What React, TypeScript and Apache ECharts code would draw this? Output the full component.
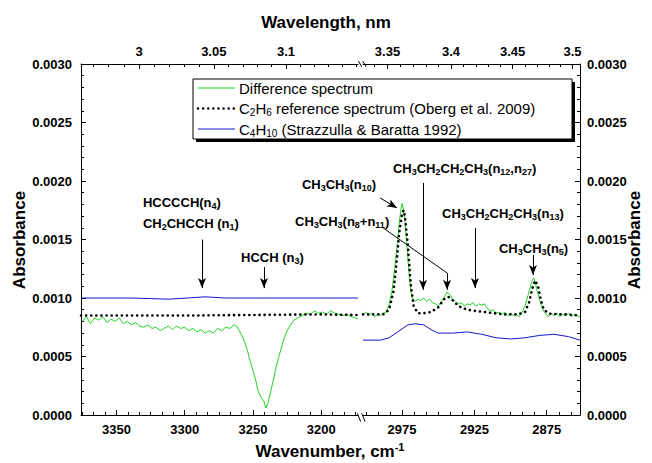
import React, { useEffect, useRef } from 'react';
import * as echarts from 'echarts';

const FONT = '"Liberation Sans", Arial, Helvetica, sans-serif';

// axis ranges (wavenumber, cm-1)
const leftRange = [3173, 3376];
const rightRange = [2852, 3002];
const leftXTicks = [3350, 3300, 3250, 3200];
const rightXTicks = [2975, 2925, 2875];
const leftWlTicks = [3, 3.05, 3.1];
const rightWlTicks = [3.35, 3.4, 3.45, 3.5];
const leftWlMinor = [2.97, 2.98, 2.99, 3.01, 3.02, 3.03, 3.04, 3.06, 3.07, 3.08, 3.09, 3.11, 3.12, 3.13, 3.14, 3.15];
const rightWlMinor = [3.34, 3.36, 3.37, 3.38, 3.39, 3.41, 3.42, 3.43, 3.44, 3.46, 3.47, 3.48, 3.49];

// Difference spectrum (green)
const diffLeft = [
  [3375, 0.00080], [3372, 0.00084], [3369, 0.00078], [3366, 0.00083], [3363, 0.00081], [3360, 0.00084],
  [3357, 0.00079], [3354, 0.00082], [3351, 0.00080], [3348, 0.00083], [3345, 0.00078], [3342, 0.00080],
  [3339, 0.00077], [3336, 0.00079], [3333, 0.00076], [3330, 0.00075], [3327, 0.00077], [3324, 0.00074],
  [3321, 0.00075], [3318, 0.00072], [3315, 0.00074], [3312, 0.00076], [3309, 0.00073], [3306, 0.00076],
  [3303, 0.00074], [3300, 0.00075], [3297, 0.00072], [3294, 0.00074], [3291, 0.00071], [3288, 0.00073],
  [3285, 0.00070], [3282, 0.00072], [3279, 0.00070], [3276, 0.00074], [3273, 0.00072], [3270, 0.00075],
  [3267, 0.00074], [3264, 0.00077], [3262, 0.00076], [3260, 0.00072], [3258, 0.00068], [3256, 0.00062],
  [3254, 0.00055], [3252, 0.00046], [3250, 0.00038], [3248, 0.00030], [3246, 0.00020], [3244, 0.00015],
  [3242, 0.00012], [3240.5, 0.00006], [3239, 0.00010], [3237, 0.00020], [3235, 0.00030], [3233, 0.00041],
  [3231, 0.00050], [3229, 0.00058], [3227, 0.00066], [3225, 0.00072], [3223, 0.00076], [3220, 0.00081],
  [3217, 0.00083], [3214, 0.00085], [3211, 0.00087], [3208, 0.00086], [3205, 0.00089], [3202, 0.00087],
  [3199, 0.00088], [3196, 0.00086], [3193, 0.00089], [3190, 0.00087], [3187, 0.00086], [3184, 0.00085],
  [3181, 0.00086], [3178, 0.00084], [3175, 0.00083], [3173, 0.00082],
];
const diffRight = [
  [3002, 0.00086], [3000, 0.00088], [2998, 0.00085], [2996, 0.00087], [2994, 0.00084], [2992, 0.00086],
  [2990, 0.00085], [2988, 0.00087], [2986, 0.00088], [2984, 0.00094], [2982, 0.00106], [2980, 0.00126],
  [2978, 0.00150], [2977, 0.00163], [2976, 0.00174], [2975, 0.00181], [2974, 0.00176], [2973, 0.00166],
  [2972, 0.00150], [2971, 0.00134], [2970, 0.00118], [2969, 0.00106], [2968, 0.00100], [2966, 0.00097],
  [2964, 0.00099], [2962, 0.00098], [2960, 0.00100], [2958, 0.00097], [2956, 0.00099], [2954, 0.00096],
  [2952, 0.00095], [2950, 0.00093], [2948, 0.00097], [2946, 0.00100], [2944, 0.00105], [2942, 0.00103],
  [2940, 0.00099], [2938, 0.00097], [2936, 0.00095], [2934, 0.00096], [2932, 0.00093], [2930, 0.00095],
  [2928, 0.00094], [2926, 0.00096], [2924, 0.00093], [2922, 0.00095], [2920, 0.00094], [2918, 0.00095],
  [2916, 0.00091], [2914, 0.00089], [2912, 0.00090], [2910, 0.00087], [2908, 0.00088], [2906, 0.00086],
  [2904, 0.00088], [2902, 0.00085], [2900, 0.00087], [2898, 0.00085], [2896, 0.00086], [2894, 0.00084],
  [2892, 0.00088], [2890, 0.00093], [2888, 0.00102], [2886, 0.00111], [2885, 0.00115], [2884, 0.00117],
  [2883, 0.00114], [2882, 0.00108], [2880, 0.00099], [2878, 0.00091], [2876, 0.00087], [2874, 0.00084],
  [2872, 0.00087], [2870, 0.00085], [2868, 0.00087], [2866, 0.00084], [2864, 0.00086], [2862, 0.00085],
  [2860, 0.00087], [2858, 0.00084], [2856, 0.00086], [2854, 0.00085], [2852, 0.00084],
];

// C2H6 reference spectrum (black dotted)
const c2h6Left = [[3376, 0.00085], [3300, 0.00085], [3250, 0.000855], [3200, 0.00086], [3173, 0.000855]];
const c2h6Right = [
  [3002, 0.00086], [2988, 0.00086], [2984, 0.00090], [2981, 0.00105], [2979, 0.00128], [2977, 0.00155],
  [2975, 0.00172], [2974, 0.00175], [2973, 0.00170], [2971, 0.00145], [2969, 0.00112], [2967, 0.00093],
  [2964, 0.00087], [2960, 0.00087], [2955, 0.00088], [2950, 0.00092], [2946, 0.00099], [2943, 0.00101],
  [2940, 0.00098], [2936, 0.00093], [2930, 0.00090], [2925, 0.00089], [2915, 0.000875], [2905, 0.00086],
  [2895, 0.00086], [2890, 0.00088], [2887, 0.00097], [2885, 0.00108], [2883, 0.00115], [2881, 0.00110],
  [2879, 0.00098], [2877, 0.00090], [2873, 0.000865], [2862, 0.00086], [2852, 0.00085],
];

// C4H10 (blue)
const c4h10Left = [
  [3376, 0.001], [3340, 0.001], [3325, 0.000995], [3312, 0.00099], [3298, 0.001], [3285, 0.00101],
  [3270, 0.001], [3240, 0.001], [3200, 0.001], [3173, 0.001],
];
const c4h10Right = [
  [3002, 0.00064], [2990, 0.00064], [2984, 0.00066], [2978, 0.00071], [2971, 0.00077], [2966, 0.00078],
  [2960, 0.00077], [2955, 0.00073], [2950, 0.00070], [2940, 0.00070], [2930, 0.00071], [2920, 0.00069],
  [2910, 0.00066], [2900, 0.00065], [2890, 0.00066], [2880, 0.00068], [2870, 0.00069], [2860, 0.00067],
  [2852, 0.00064],
];

// annotation texts, placed in data coordinates [wavenumber, absorbance]
const annotations = [
  { panel: 0, text: 'HCCCCH(n_4)', at: [3330.6, 0.00182] },
  { panel: 0, text: 'CH_2CHCCH (n_1)', at: [3330.6, 0.00164] },
  { panel: 0, text: 'HCCH (n_3)', at: [3258.7, 0.00135] },
  { panel: 1, text: 'CH_3CH_3(n_{10})', at: [3044.2, 0.001966] },
  { panel: 1, text: 'CH_3CH_3(n_8+n_{11})', at: [3049, 0.00165] },
  { panel: 1, text: 'CH_3CH_2CH_2CH_3(n_{12},n_{27})', at: [2981.3, 0.002111] },
  { panel: 1, text: 'CH_3CH_2CH_2CH_3(n_{13})', at: [2947.4, 0.001718] },
  { panel: 1, text: 'CH_3CH_3(n_5)', at: [2908, 0.001427] },
];
const arrowsLeft = [
  [[3287.3, 0.0015], [3287.3, 0.001085]],
  [[3241.9, 0.001265], [3241.9, 0.001085]],
];
const arrowsRight = [
  [[2990.2, 0.001855], [2978.5, 0.00177]],
  [[2943.9, 0.001214], [2943.9, 0.00107]],
  [[2960.5, 0.001983], [2960.5, 0.00107]],
  [[2924.6, 0.001598], [2924.6, 0.001085]],
  [[2884.5, 0.001368], [2884.5, 0.001197]],
];
const leadersRight = [[[2988.2, 0.0016], [2943.9, 0.001214]]];

const GREEN = '#22d322';
const BLUE = '#1414cc';
const DOTS = [0.1, 5];

function rich(s: string): string {
  const out: string[] = [];
  const re = /_\{([^}]*)\}|_(.)/g;
  let last = 0;
  let m: RegExpExecArray | null;
  while ((m = re.exec(s))) {
    if (m.index > last) out.push('{b|' + s.slice(last, m.index) + '}');
    out.push('{s|' + (m[1] ?? m[2]) + '}');
    last = re.lastIndex;
  }
  if (last < s.length) out.push('{b|' + s.slice(last) + '}');
  return out.join('');
}

function xAxisPair(grid: number, range: number[], pos: string, major: number[], minor: number[], fmt: (v: number) => string) {
  const common = {
    type: 'value', gridIndex: grid, position: pos, min: range[0], max: range[1], inverse: true,
    splitLine: { show: false },
  };
  return [
    {
      ...common,
      axisLine: { show: true, onZero: false, lineStyle: { color: '#000', width: 1 } },
      axisTick: { show: true, inside: true, length: 5, customValues: major, lineStyle: { color: '#000' } },
      axisLabel: {
        show: true, customValues: major, formatter: fmt, margin: pos === 'top' ? 6 : 8,
        color: '#000', fontSize: 13, fontWeight: 'bold', fontFamily: FONT,
      },
    },
    {
      ...common,
      axisLine: { show: false, onZero: false },
      axisTick: { show: true, inside: true, length: 3, customValues: minor, lineStyle: { color: '#000' } },
      axisLabel: { show: false },
    },
  ];
}

function minorBetween(range: number[], step: number, anchor: number, majors: number[]) {
  const vals: number[] = [];
  for (let k = -40; k <= 40; k++) {
    const v = anchor + k * step;
    if (v > range[0] + 0.5 && v < range[1] - 0.5 && !majors.some((m) => Math.abs(m - v) < 0.01)) vals.push(v);
  }
  return vals;
}

function yAxis(grid: number, pos: string) {
  return {
    type: 'value', gridIndex: grid, position: pos, min: 0, max: 0.003, interval: 0.0005,
    axisLine: { show: true, onZero: false, lineStyle: { color: '#000', width: 1 } },
    axisTick: { show: true, inside: true, length: 5, lineStyle: { color: '#000' } },
    minorTick: { show: true, splitNumber: 5, length: 3, lineStyle: { color: '#000' } },
    splitLine: { show: false },
    axisLabel: {
      formatter: (v: number) => v.toFixed(4), margin: pos === 'left' ? 9 : 7,
      color: '#000', fontSize: 13, fontWeight: 'bold', fontFamily: FONT,
    },
  };
}

const wn = (w: number) => 1e4 / w;
const wlFmt = (v: number) => String(+(1e4 / v).toFixed(2));
const wnFmt = (v: number) => String(Math.round(v));

function markLines(arrows: number[][][], leaders: number[][][]) {
  return {
    silent: true, symbol: ['none', 'arrow'], symbolSize: [6, 10], animation: false,
    label: { show: false },
    lineStyle: { color: '#000', width: 1, type: 'solid' },
    emphasis: { disabled: true },
    data: [
      ...arrows.map(([a, b]) => [{ coord: a }, { coord: b }]),
      ...leaders.map(([a, b]) => [{ coord: a, symbol: 'none' }, { coord: b, symbol: 'none' }]),
    ],
  };
}

export default function App() {
  const ref = useRef<HTMLDivElement>(null);
  useEffect(() => {
    const chart = echarts.init(ref.current!, null, { renderer: 'svg' });
    const leftMinorX = minorBetween(leftRange, 50 / 6, 3350, leftXTicks);
    const rightMinorX = minorBetween(rightRange, 50 / 6, 2975, rightXTicks);
    const lineSeries = (name: string, x: number, data: number[][], color: string, dotted: boolean, extra: any = {}) => ({
      name, type: 'line', xAxisIndex: x, yAxisIndex: x / 4, data, showSymbol: false, symbol: 'none',
      lineStyle: dotted ? { color, width: 2.6, type: DOTS, cap: 'round' } : { color, width: 1 },
      itemStyle: { color }, silent: true, z: dotted ? 3 : 2, ...extra,
    });
    chart.setOption({
      animation: false,
      textStyle: { fontFamily: FONT },
      grid: [
        { left: 81, right: 294, top: 64, bottom: 48 },
        { left: 363, right: 72, top: 64, bottom: 48 },
      ],
      xAxis: [
        ...xAxisPair(0, leftRange, 'bottom', leftXTicks, leftMinorX, wnFmt),
        ...xAxisPair(0, leftRange, 'top', leftWlTicks.map(wn), leftWlMinor.map(wn), wlFmt),
        ...xAxisPair(1, rightRange, 'bottom', rightXTicks, rightMinorX, wnFmt),
        ...xAxisPair(1, rightRange, 'top', rightWlTicks.map(wn), rightWlMinor.map(wn), wlFmt),
      ],
      yAxis: [yAxis(0, 'left'), yAxis(1, 'right')],
      series: [
        lineSeries('Difference spectrum', 0, diffLeft, GREEN, false, { markLine: markLines(arrowsLeft, []) }),
        lineSeries('C2H6 reference spectrum (Oberg et al. 2009)', 0, c2h6Left, '#000', true),
        lineSeries('C4H10 (Strazzulla & Baratta 1992)', 0, c4h10Left, BLUE, false),
        lineSeries('Difference spectrum', 4, diffRight, GREEN, false, { markLine: markLines(arrowsRight, leadersRight) }),
        lineSeries('C2H6 reference spectrum (Oberg et al. 2009)', 4, c2h6Right, '#000', true),
        lineSeries('C4H10 (Strazzulla & Baratta 1992)', 4, c4h10Right, BLUE, false),
      ],
    });

    const annRich = {
      b: { fontSize: 13, fontWeight: 'bold', fontFamily: FONT, fill: '#000', lineHeight: 16 },
      s: { fontSize: 9, fontWeight: 'bold', fontFamily: FONT, fill: '#000', lineHeight: 6, verticalAlign: 'bottom' },
    };
    const legRich = {
      b: { fontSize: 15, fontFamily: FONT, fill: '#000', lineHeight: 18 },
      s: { fontSize: 10, fontFamily: FONT, fill: '#000', lineHeight: 7, verticalAlign: 'bottom' },
    };
    const annGraphics = annotations.map((a) => {
      const p = chart.convertToPixel({ xAxisIndex: a.panel * 4, yAxisIndex: a.panel }, a.at) as number[];
      return {
        type: 'text', x: p[0], y: p[1], z: 50, silent: true,
        style: { text: rich(a.text), rich: annRich, verticalAlign: 'middle', align: 'left' },
      };
    });
    const legendItems = [
      { text: 'Difference spectrum', color: GREEN, dotted: false },
      { text: 'C_2H_6 reference spectrum (Oberg et al. 2009)', color: '#000', dotted: true },
      { text: 'C_4H_{10} (Strazzulla & Baratta 1992)', color: BLUE, dotted: false },
    ];
    const legendGraphics: any[] = [
      { type: 'rect', z: 60, silent: true, shape: { x: 196, y: 82, width: 379, height: 60 }, style: { fill: '#000' } },
      { type: 'rect', z: 61, silent: true, shape: { x: 193, y: 79, width: 379, height: 60 }, style: { fill: '#fff', stroke: '#000', lineWidth: 1 } },
    ];
    legendItems.forEach((it, i) => {
      const y = 88 + i * 20.5;
      legendGraphics.push({
        type: 'line', z: 62, silent: true, shape: { x1: 198, y1: y, x2: 235, y2: y },
        style: it.dotted ? { stroke: it.color, lineWidth: 2.4, lineDash: DOTS, lineCap: 'round' } : { stroke: it.color, lineWidth: 1.2 },
      });
      legendGraphics.push({
        type: 'text', z: 62, silent: true, x: 239, y,
        style: { text: rich(it.text), rich: legRich, verticalAlign: 'middle', align: 'left' },
      });
    });
    const breakMarks: any[] = [];
    [[358.3, 61, 66.7], [357.3, 413.3, 421.7]].forEach(([x, y1, y2]) => {
      [0, 4.4].forEach((dx) => {
        breakMarks.push({ type: 'line', z: 40, silent: true, shape: { x1: x + dx, y1, x2: x + dx + 3.4, y2 }, style: { stroke: '#000', lineWidth: 1 } });
      });
    });
    const titleStyle = { fontSize: 17, fontWeight: 'bold', fontFamily: FONT, fill: '#000' };
    const titles: any[] = [
      { type: 'text', x: 326, y: 22, silent: true, style: { ...titleStyle, text: 'Wavelength, nm', align: 'center', verticalAlign: 'middle' } },
      {
        type: 'text', x: 330, y: 451, silent: true,
        style: {
          text: '{t|Wavenumber, cm}{p|-1}', align: 'center', verticalAlign: 'middle',
          rich: { t: { ...titleStyle, lineHeight: 20 }, p: { fontSize: 11, fontWeight: 'bold', fontFamily: FONT, fill: '#000', lineHeight: 11, verticalAlign: 'top' } },
        },
      },
      { type: 'text', x: 19, y: 240, rotation: Math.PI / 2, silent: true, style: { ...titleStyle, text: 'Absorbance', align: 'center', verticalAlign: 'middle' } },
      { type: 'text', x: 634, y: 240, rotation: Math.PI / 2, silent: true, style: { ...titleStyle, text: 'Absorbance', align: 'center', verticalAlign: 'middle' } },
    ];
    chart.setOption({ graphic: [...legendGraphics, ...annGraphics, ...breakMarks, ...titles] });
    return () => chart.dispose();
  }, []);
  return <div ref={ref} style={{ position: 'absolute', left: 0, top: 0, width: 652, height: 463 }} />;
}
